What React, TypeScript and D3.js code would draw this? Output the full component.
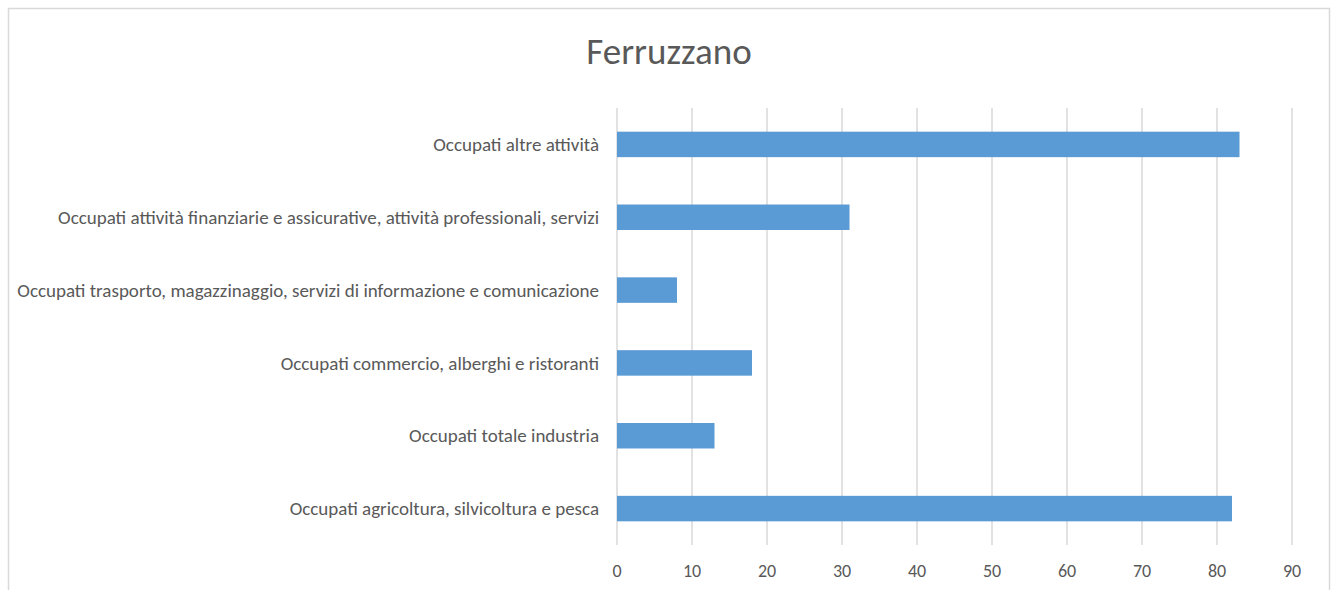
import React from "react";
import * as d3 from "d3";

const categories = [
  "Occupati altre attività",
  "Occupati attività finanziarie e assicurative, attività professionali, servizi",
  "Occupati trasporto, magazzinaggio, servizi di informazione e comunicazione",
  "Occupati commercio, alberghi e ristoranti",
  "Occupati totale industria",
  "Occupati agricoltura, silvicoltura e pesca",
];
const values = [83, 31, 8, 18, 13, 82];
const xTicks = [0, 10, 20, 30, 40, 50, 60, 70, 80, 90];
const title = "Ferruzzano";

const W = 1335;
const H = 590;
const plot = { left: 617, right: 1292, top: 108, bottom: 545 };
const FONT = "Carlito, Lato, 'Open Sans', sans-serif";

export default function App() {
  const x = d3.scaleLinear().domain([0, 90]).range([plot.left, plot.right]);
  const y = d3
    .scaleBand<string>()
    .domain(categories)
    .range([plot.top, plot.bottom])
    .paddingInner(0.65)
    .paddingOuter(0.325);

  return (
    <svg
      width={W}
      height={H}
      style={{ position: "absolute", left: 0, top: 0, display: "block" }}
      fontFamily={FONT}
    >
      <rect x={0} y={0} width={W} height={H} fill="#fff" />
      <rect x={8.5} y={8.5} width={1321} height={600} fill="#fff" stroke="#d9d9d9" strokeWidth={1.5} />
      <text x={669} y={64} textAnchor="middle" fontSize={37} fill="#595959">
        {title}
      </text>
      {xTicks.map((t) => (
        <g key={t}>
          <line x1={x(t)} x2={x(t)} y1={plot.top} y2={plot.bottom} stroke="#d9d9d9" strokeWidth={1.5} />
          <text x={x(t)} y={577} textAnchor="middle" fontSize={18} fill="#595959">
            {t}
          </text>
        </g>
      ))}
      {categories.map((c, i) => (
        <g key={c}>
          <rect
            x={x(0)}
            y={y(c)!}
            width={x(values[i]) - x(0)}
            height={y.bandwidth()}
            fill="#5b9bd5"
          />
          <text
            x={599}
            y={y(c)! + y.bandwidth() / 2}
            dy="0.35em"
            textAnchor="end"
            fontSize={19}
            fill="#595959"
          >
            {c}
          </text>
        </g>
      ))}
    </svg>
  );
}
